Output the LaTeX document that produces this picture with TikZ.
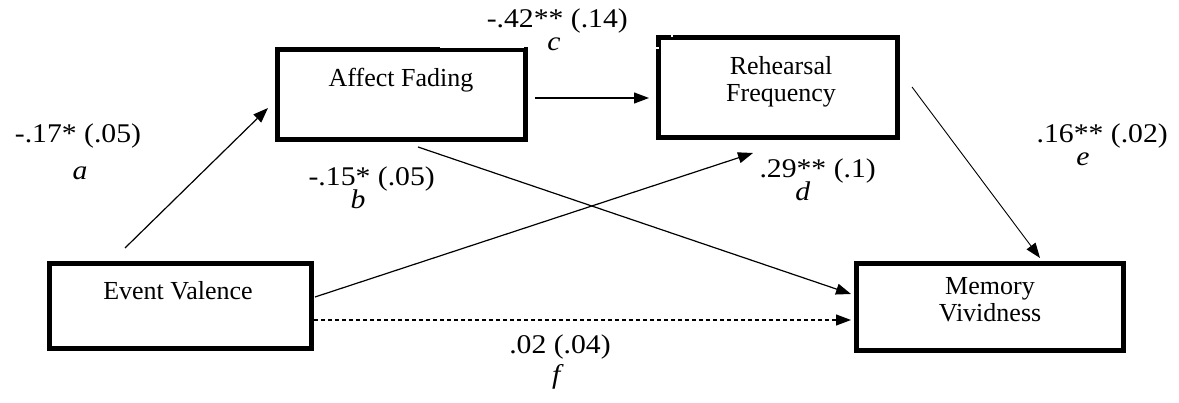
\documentclass[tikz,border=0pt]{standalone}
\usepackage{fontspec}
\setmainfont{Liberation Serif}
\newfontfamily\labfont[FakeStretch=1.1]{Liberation Serif}
\usetikzlibrary{arrows.meta,calc}
\tikzset{
  box/.style={draw, line width=5pt, inner sep=0pt},
  boxtext/.style={font=\fontsize{26}{27}\selectfont, align=center, inner sep=0pt},
  lab/.style={font=\labfont\fontsize{27}{29}\selectfont, inner sep=0pt, anchor=base},
  arr/.style={line width=1.2pt, -{Triangle[length=15pt,width=11pt]}},
  dsh/.style={arr, dash pattern=on 4pt off 3pt}
}
% lowered path letter, placed under the end of the preceding text
\newcommand{\lowl}[2]{\llap{\raisebox{-23pt}{\textit{#1}}\hspace{#2}}}
\begin{document}
\begin{tikzpicture}[x=1pt,y=-1pt]
\useasboundingbox (0,0) rectangle (1179,403);
% boxes
\node[box, minimum width=248pt, minimum height=90pt] (af) at (401.5,94.5) {};
\node[box, minimum width=239pt, minimum height=100pt] (rf) at (778,87.5) {};
\node[box, minimum width=262pt, minimum height=85pt] (ev) at (180.5,306) {};
\node[box, minimum width=267pt, minimum height=87pt] (mv) at (990,307) {};
% box texts
\node[boxtext, anchor=base] (aft) at (401,87) {Affect Fading};
\node[boxtext] (rft) at (781,82) {Rehearsal\\Frequency};
\node[boxtext, anchor=base] (evt) at (178,300) {Event Valence};
\node[boxtext] (mvt) at (990,300) {Memory\\Vividness};
% border artefacts
\draw[white, line width=1.3pt] (440,47) -- (524,47);
\draw[white, line width=1.3pt] (672,32.5) -- (672,37.5);
\draw[white, line width=1.3pt] (654,48) -- (658.5,48);
% connector end points
\coordinate (a1) at (125,248);
\coordinate (a2) at (268,108);
\coordinate (c1) at (535,98);
\coordinate (c2) at (649,98);
\coordinate (e1) at (912,87);
\coordinate (e2) at (1040,258);
\coordinate (d1) at (315,297);
\coordinate (d2) at (753,153);
\coordinate (b1) at (418,147);
\coordinate (b2) at (851,294);
\coordinate (f1) at (314,320);
\coordinate (f2) at (851,320);
\draw[arr] (a1) -- (a2);
\draw[arr] (c1) -- (c2);
\draw[arr, line width=0.9pt] (e1) -- (e2);
\draw[arr] (d1) -- (d2);
\draw[arr] (b1) -- (b2);
\draw[dsh] (f1) -- (f2);
% labels
\node[lab] (la) at (78,143) {-.17* (.05)};
\node[lab] (laa) at (80,180) {\textit{a}};
\node[lab, anchor=base east] (lc) at (628,28) {-.42**\lowl{c}{3pt} (.14)};
\node[lab, anchor=base east] (lb) at (435,186) {-.15*\lowl{b}{5pt} (.05)};
\node[lab, anchor=base east] (ld) at (876,178) {.29**\lowl{d}{16pt} (.1)};
\node[lab, anchor=base east] (le) at (1168,143) {.16**\lowl{e}{14pt} (.02)};
\node[lab] (lf) at (560,354) {.02 (.04)};
\node[lab] (lff) at (558,384) {\textit{f}};
\end{tikzpicture}
\end{document}
